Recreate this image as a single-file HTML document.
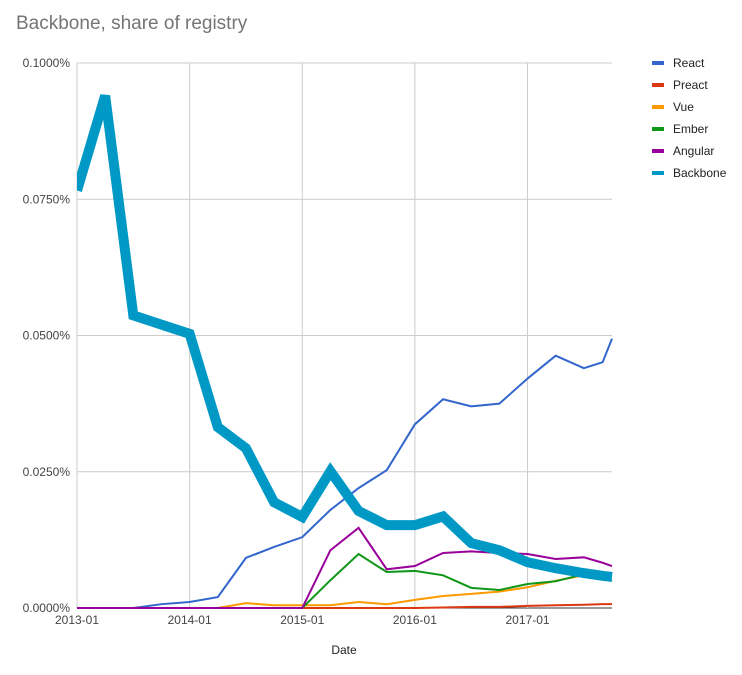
<!DOCTYPE html>
<html><head><meta charset="utf-8">
<style>
html,body{margin:0;padding:0;background:#fff;}
svg{display:block;font-family:"Liberation Sans",Arial,sans-serif;}
</style></head>
<body>
<svg id="chart" width="742" height="675">
<text x="16" y="29" font-size="19" fill="#757575">Backbone, share of registry</text>
<g id="grid"></g>
<g id="series"></g>
<g id="legend"></g>
<text x="344" y="654" font-size="12" fill="#222" text-anchor="middle">Date</text>
</svg>
<script>
const months = [0,3,6,9,12,15,18,21,24,27,30,33,36,39,42,45,48,51,54,56,57];
const seriesNames = ["React","Preact","Vue","Ember","Angular","Backbone"];
const colors = ["#3366cc","#dc3912","#ff9900","#109618","#990099","#0099c6"];
const widths = [2,2,2,2,2,10];
const react    = [0,0,0,0.0007,0.0011,0.002,0.0092,0.0112,0.013,0.018,0.022,0.0253,0.0337,0.0383,0.037,0.0375,0.0421,0.0463,0.044,0.0451,0.0494];
const preact   = [0,0,0,0,0,0,0,0,0,0,0,0,0,0.0001,0.0002,0.0002,0.0004,0.0005,0.0006,0.0007,0.0007];
const vue      = [0,0,0,0,0,0,0.0009,0.0005,0.0005,0.0005,0.0011,0.0007,0.0015,0.0022,0.0026,0.003,0.0038,0.005,0.006,0.0063,0.0064];
const ember    = [0,0,0,0,0,0,0,0,0,0.0051,0.0099,0.0066,0.0068,0.006,0.0037,0.0033,0.0044,0.0049,0.0062,0.0055,0.005];
const angular  = [0,0,0,0,0,0,0,0,0,0.0106,0.0147,0.0071,0.0077,0.0101,0.0104,0.0101,0.0099,0.009,0.0093,0.0083,0.0077];
const backbone = [0.0766,0.094,0.0537,0.052,0.0503,0.0332,0.0293,0.0194,0.0167,0.0251,0.0178,0.0152,0.0152,0.0168,0.0119,0.0106,0.0084,0.0073,0.0064,0.0059,0.0057];
const yTicks = [0,0.025,0.05,0.075,0.1];
const yTickLabels = ["0.0000%","0.0250%","0.0500%","0.0750%","0.1000%"];
const xTickMonths = [0,12,24,36,48];
const xTickLabels = ["2013-01","2014-01","2015-01","2016-01","2017-01"];
const allSeries = [react,preact,vue,ember,angular,backbone];

const NS="http://www.w3.org/2000/svg";
const L=77,R=612,T=63,B=608;
function xs(m){return L+m*(R-L)/57;}
function ys(v){return B-v*(B-T)/0.1;}
const grid=document.getElementById('grid');
yTicks.forEach((v,i)=>{
  const ln=document.createElementNS(NS,'line');
  ln.setAttribute('x1',L);ln.setAttribute('x2',R);ln.setAttribute('y1',ys(v));ln.setAttribute('y2',ys(v));
  ln.setAttribute('stroke',i===0?'#333':'#ccc');ln.setAttribute('stroke-width','1');
  
  
  grid.appendChild(ln);
  const t=document.createElementNS(NS,'text');
  t.setAttribute('x',70);t.setAttribute('y',ys(v)+4);t.setAttribute('text-anchor','end');
  t.setAttribute('font-size','12');t.setAttribute('fill','#444');t.textContent=yTickLabels[i];
  
  
  grid.appendChild(t);
});
xTickMonths.forEach((m,i)=>{
  const ln=document.createElementNS(NS,'line');
  ln.setAttribute('x1',xs(m));ln.setAttribute('x2',xs(m));ln.setAttribute('y1',T);ln.setAttribute('y2',B);
  ln.setAttribute('stroke','#ccc');ln.setAttribute('stroke-width','1');
  
  
  grid.appendChild(ln);
  const t=document.createElementNS(NS,'text');
  t.setAttribute('x',xs(m));t.setAttribute('y',624);t.setAttribute('text-anchor','middle');
  t.setAttribute('font-size','12');t.setAttribute('fill','#444');t.textContent=xTickLabels[i];
  
  
  grid.appendChild(t);
});
const sg=document.getElementById('series');
allSeries.forEach((arr,si)=>{
  const p=document.createElementNS(NS,'polyline');
  p.setAttribute('points',arr.map((v,i)=>xs(months[i])+','+ys(v)).join(' '));
  p.setAttribute('fill','none');p.setAttribute('stroke',colors[si]);p.setAttribute('stroke-width',widths[si]);
  p.setAttribute('stroke-linejoin','miter');
  
  
  sg.appendChild(p);
});
sg.setAttribute('clip-path','url(#clip)');
const defs=document.createElementNS(NS,'defs');
defs.innerHTML='<clipPath id="clip"><rect x="'+L+'" y="40" width="'+(R-L+2)+'" height="'+(B-40+6)+'"/></clipPath>';
document.getElementById('chart').appendChild(defs);
const lg=document.getElementById('legend');
seriesNames.forEach((n,i)=>{
  const g=document.createElementNS(NS,'g');
  
  
  const r=document.createElementNS(NS,'rect');
  r.setAttribute('x',652);r.setAttribute('y',61+i*22);r.setAttribute('width',12);r.setAttribute('height',4);
  r.setAttribute('fill',colors[i]);
  
  
  const t=document.createElementNS(NS,'text');
  t.setAttribute('x',673);t.setAttribute('y',67+i*22);t.setAttribute('font-size','12');t.setAttribute('fill','#222');
  t.textContent=n;
  
  
  g.appendChild(r);g.appendChild(t);lg.appendChild(g);
});
</script>
</body></html>
